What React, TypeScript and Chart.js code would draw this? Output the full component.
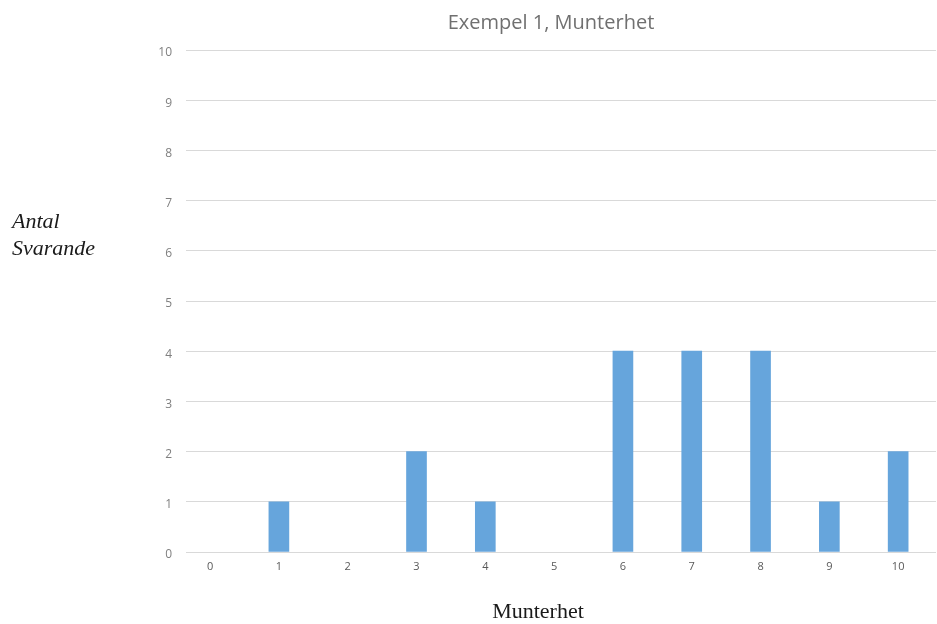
import React, { useEffect, useRef } from "react";
import { Chart, registerables } from "chart.js";

Chart.register(...registerables);

// Antal svarande per munterhetsvärde (0–10)
const scoreValues: number[] = [0, 1, 2, 3, 4, 5, 6, 7, 8, 9, 10];
const respondentCounts: number[] = [0, 1, 0, 2, 1, 0, 4, 4, 4, 1, 2];
const yTickValues: number[] = [0, 1, 2, 3, 4, 5, 6, 7, 8, 9, 10];

const chartTitle = "Exempel 1, Munterhet";
const yAxisTitleLines: string[] = ["Antal", "Svarande"];
const xAxisTitle = "Munterhet";

const WIDTH = 937;
const HEIGHT = 624;
const BAR_COLOR = "#66a5dc";

// Free-standing texts: chart title and the two axis titles
const textPlugin = {
  id: "freeTexts",
  afterDraw(chart: Chart) {
    const ctx = chart.ctx;
    ctx.save();
    ctx.textBaseline = "alphabetic";

    ctx.fillStyle = "#707070";
    ctx.font = "20px 'Open Sans'";
    ctx.textAlign = "center";
    ctx.fillText(chartTitle, 551, 29);

    ctx.fillStyle = "#1a1a1a";
    ctx.font = "italic 22px 'Liberation Serif'";
    ctx.textAlign = "left";
    ctx.fillText(yAxisTitleLines[0], 12, 228);
    ctx.fillText(yAxisTitleLines[1], 12, 255);

    ctx.font = "22px 'Liberation Serif'";
    ctx.textAlign = "center";
    ctx.fillText(xAxisTitle, 538, 618);
    ctx.restore();
  },
};

export default function App() {
  const canvasRef = useRef<HTMLCanvasElement | null>(null);

  useEffect(() => {
    if (!canvasRef.current) return;
    const chart = new Chart(canvasRef.current, {
      type: "bar",
      data: {
        datasets: [
          {
            label: "Antal svarande",
            data: scoreValues.map((s, i) => ({ x: s, y: respondentCounts[i] })),
            backgroundColor: (c: any) =>
              c.raw && c.raw.y > 0 ? BAR_COLOR : "rgba(0,0,0,0)",
            borderWidth: 0,
            barThickness: 20,
          },
        ],
      },
      options: {
        responsive: false,
        animation: false,
        devicePixelRatio: 1,
        layout: { padding: { left: 0, right: 1, top: 50, bottom: 0 } },
        plugins: {
          legend: { display: false },
          title: { display: false },
          tooltip: { enabled: false },
        },
        scales: {
          x: {
            type: "linear",
            offset: false,
            min: -0.35,
            max: 10.55,
            grid: { display: false, offset: false, drawTicks: false },
            border: { display: false },
            afterBuildTicks(scale: any) {
              scale.ticks = scoreValues.map((v) => ({ value: v }));
            },
            ticks: {
              color: "#595959",
              font: { family: "'Open Sans'", size: 11 },
              padding: 8,
              maxRotation: 0,
              autoSkip: false,
            },
            afterFit(scale: any) {
              scale.height = 72;
            },
          },
          y: {
            min: 0,
            max: 10,
            afterBuildTicks(scale: any) {
              scale.ticks = yTickValues.map((v) => ({ value: v }));
            },
            grid: { color: "#d9d9d9", lineWidth: 1, drawTicks: false },
            border: { display: false },
            ticks: {
              color: "#7f7f7f",
              font: { family: "'Open Sans'", size: 12 },
              padding: 14,
              labelOffset: 3,
            },
            afterFit(scale: any) {
              scale.width = 186;
            },
          },
        },
      },
      plugins: [textPlugin],
    });
    return () => chart.destroy();
  }, []);

  return (
    <div
      style={{
        position: "fixed",
        left: 0,
        top: 0,
        width: WIDTH,
        height: HEIGHT,
        background: "#ffffff",
      }}
    >
      <canvas ref={canvasRef} width={WIDTH} height={HEIGHT} />
    </div>
  );
}
